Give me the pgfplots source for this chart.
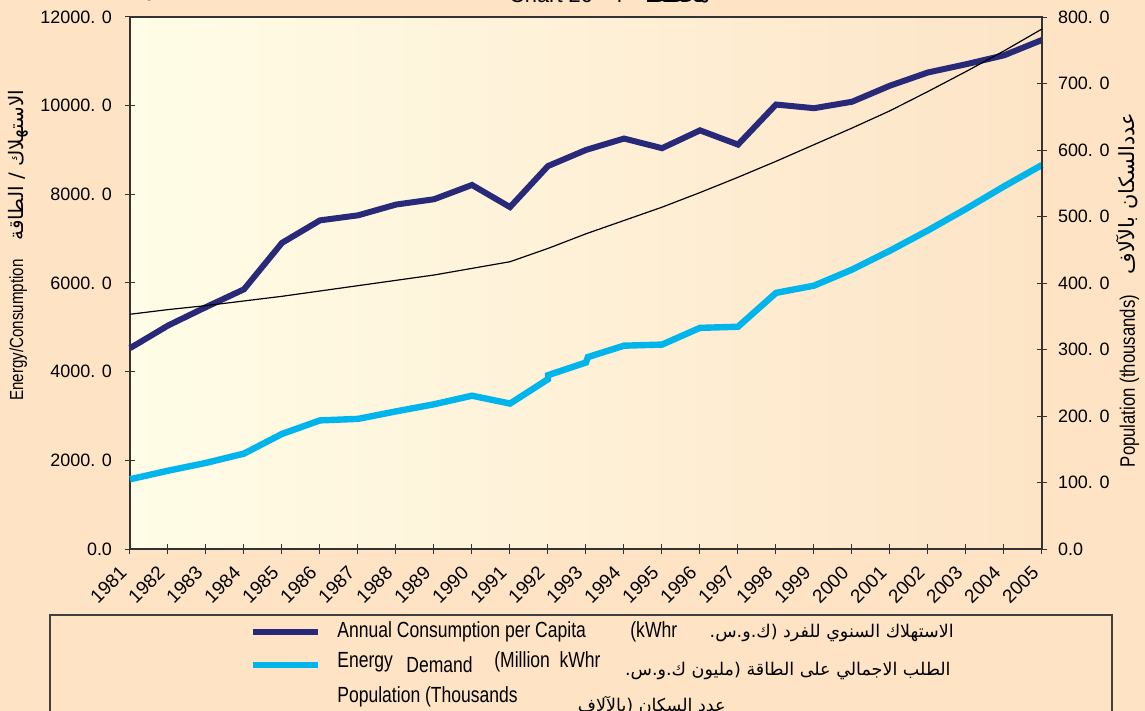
\documentclass[border=0pt]{standalone}
\usepackage{pgfplots}
\pgfplotsset{compat=1.18}
\usepackage{fontspec}
\setmainfont{Liberation Sans}
\newfontfamily\cond{Liberation Sans}[FakeStretch=0.8]
\newfontfamily\arabicfont[Script=Arabic]{DejaVu Sans}
\TeXXeTstate=1
\definecolor{peach}{HTML}{FEE3C5}
\definecolor{plotL}{HTML}{FFFDE7}
\definecolor{plotR}{HTML}{FDE4C7}
\definecolor{navy}{HTML}{29297A}
\definecolor{cyanl}{HTML}{00B5EB}
\begin{document}
\begin{tikzpicture}
\fill[peach] (-65bp,-81bp) rectangle (507.5bp,274.5bp);
\begin{axis}[
  scale only axis, width=456bp, height=266bp,
  xmin=1981, xmax=2005, ymin=0, ymax=12000,
  axis background/.style={left color=plotL, right color=plotR},
  axis line style={black!80, line width=0.6pt},
  xtick={1981,...,2005},
  xticklabels={1981,1982,1983,1984,1985,1986,1987,1988,1989,1990,1991,1992,1993,1994,1995,1996,1997,1998,1999,2000,2001,2002,2003,2004,2005},
  xtick pos=bottom, ytick pos=left,
  ytick={0,2000,...,12000},
  yticklabels={0.0,2000. 0,4000. 0,6000. 0,8000. 0,10000. 0,12000. 0},
  tick align=center, major tick length=5bp,
  tick style={black!80, line width=0.5pt},
  ticklabel style={font=\fontsize{9}{10}\selectfont},
  xticklabel style={xshift=-2.5bp, yshift=-7bp, rotate=45, anchor=east, inner sep=1pt, font=\fontsize{9.5}{10}\selectfont},
  yticklabel style={xshift=-3bp},
  clip=false,
]
\addplot[navy, line width=3bp] coordinates {
(1981,4530) (1982,5040) (1983,5457) (1984,5858) (1985,6905) (1986,7413)
(1987,7526) (1988,7769) (1989,7889) (1990,8211) (1991,7712) (1992,8638)
(1993,9001) (1994,9258) (1995,9041) (1996,9443) (1997,9122) (1998,10025)
(1999,9943) (2000,10088) (2001,10451) (2002,10749) (2003,10934) (2004,11135)
(2005,11482)};
\addplot[cyanl, line width=3.2bp] coordinates {
(1981,1572) (1982,1766) (1983,1942) (1984,2152) (1985,2596) (1986,2901)
(1987,2935) (1988,3104) (1989,3264) (1990,3458) (1991,3280) (1992,3830)
(1992,3920) (1993,4207) (1993.05,4329) (1994,4586) (1995,4611) (1996,4988)
(1997,5013) (1998,5777) (1999,5940) (2000,6302) (2001,6729) (2002,7187)
(2003,7672) (2004,8179) (2005,8662)};
\node[xshift=-56bp, rotate=90, font=\fontsize{9.5}{10}\selectfont] at (rel axis cs:0,0.571)
  {{\cond Energy/Consumption}\quad {\arabicfont\fontsize{10}{10}\selectfont\beginR الاستهلاك / الطاقة\endR}};
\end{axis}
\begin{axis}[
  scale only axis, width=456bp, height=266bp,
  xmin=1981, xmax=2005, ymin=0, ymax=800,
  axis x line=none, axis y line*=right,
  axis line style={black!80, line width=0.6pt},
  ytick={0,100,...,800},
  yticklabels={0.0,100. 0,200. 0,300. 0,400. 0,500. 0,600. 0,700. 0,800. 0},
  tick align=center, major tick length=5bp,
  tick style={black!80, line width=0.5pt},
  ticklabel style={font=\fontsize{9}{10}\selectfont},
  yticklabel style={xshift=2bp},
  clip=false,
]
\addplot[black, line width=0.6pt] coordinates {
(1981,353) (1982,360) (1983,366) (1984,373) (1985,380) (1986,388) (1987,396)
(1988,404) (1989,412) (1990,422) (1991,432) (1992,452) (1993,474) (1994,494)
(1995,514) (1996,536) (1997,559) (1998,583) (1999,608) (2000,633) (2001,659)
(2002,688) (2003,718) (2004,749) (2005,782)};
\node[xshift=43bp, rotate=90, font=\fontsize{10.5}{11}\selectfont] at (rel axis cs:1,0.487)
  {{\cond Population (thousands)}\quad {\arabicfont\fontsize{10.5}{11}\selectfont\beginR عددالسكان بالآلاف\endR}};
\end{axis}
% title (partly outside the page, as in the reference)
\node[anchor=base west, font=\fontsize{11}{12}\selectfont] at (186bp,273bp)
  {Chart 20\quad {\arabicfont\beginR مخطط ٢٠\endR}};
% legend
\draw[black!75, line width=0.6pt] (-40bp,-100bp) rectangle (491bp,-33bp);
\draw[navy, line width=3bp] (61.5bp,-41.5bp) -- (94bp,-41.5bp);
\draw[cyanl, line width=3.2bp] (61.5bp,-58bp) -- (94bp,-58bp);
\begin{scope}[every node/.style={font=\fontsize{11}{12}\selectfont\cond, inner sep=0pt}]
\node[anchor=west] at (103.5bp,-41.5bp) {Annual Consumption per Capita};
\node[anchor=west] at (250bp,-41.5bp) {(kWhr};
\node[anchor=east, font=\fontsize{8.8}{12}\selectfont\arabicfont] at (412bp,-42bp) {\beginR الاستهلاك السنوي للفرد (ك.و.س.\endR};
\node[anchor=west] at (103.5bp,-56.5bp) {Energy};
\node[anchor=west] at (138bp,-58bp) {Demand};
\node[anchor=west] at (182bp,-56.5bp) {(Million\ \ kWhr};
\node[anchor=east, font=\fontsize{8.8}{12}\selectfont\arabicfont] at (410.5bp,-61bp) {\beginR الطلب الاجمالي على الطاقة (مليون ك.و.س.\endR};
\node[anchor=west] at (103.5bp,-74bp) {Population (Thousands};
\node[anchor=east, font=\fontsize{8.8}{12}\selectfont\arabicfont] at (298bp,-78bp) {\beginR عدد السكان (بالآلاف\endR};
\end{scope}
\pgfresetboundingbox
\useasboundingbox (-65bp,-81bp) rectangle (507.5bp,274.5bp);
\end{tikzpicture}
\end{document}
